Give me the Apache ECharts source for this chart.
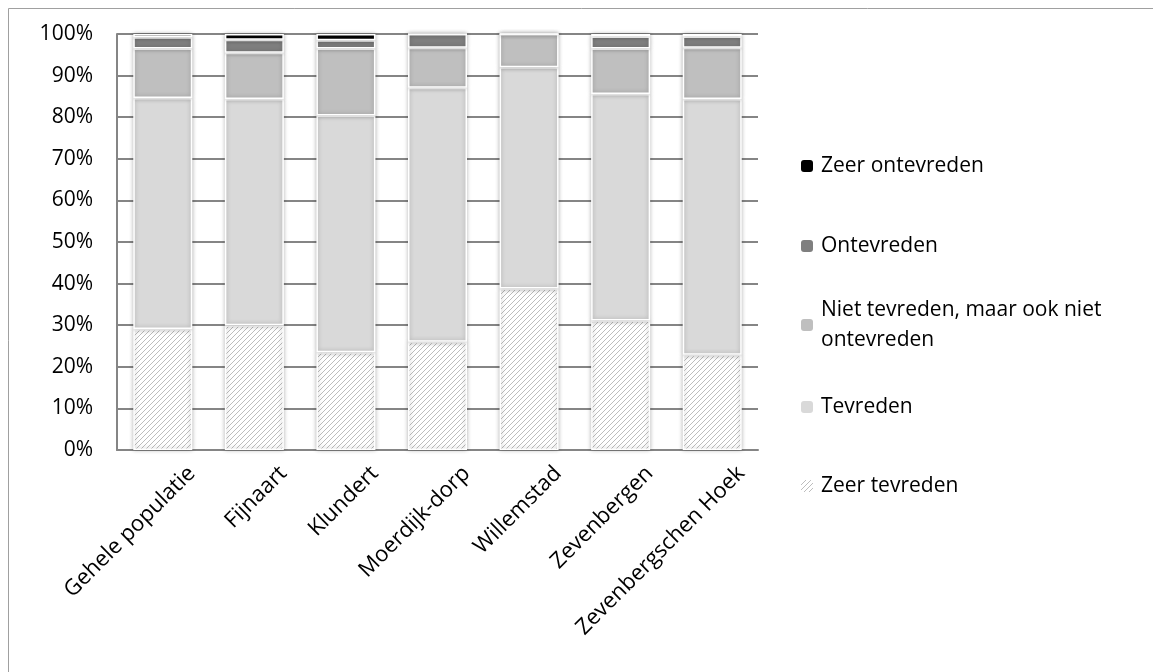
<!DOCTYPE html>
<html>
<head>
<meta charset="utf-8">
<script src="https://cdn.jsdelivr.net/npm/echarts@6/dist/echarts.min.js"></script>
<style>
html,body{margin:0;padding:0;background:#fff;}
#chart{width:1153px;height:672px;}
</style>
</head>
<body>
<div id="chart"></div>
<script>
const categories = ['Gehele populatie','Fijnaart','Klundert','Moerdijk-dorp','Willemstad','Zevenbergen','Zevenbergschen Hoek'];
const zeerTevreden   = [29.1, 30.0, 23.5, 26.0, 38.8, 31.1, 22.9];
const tevreden       = [55.5, 54.4, 56.9, 61.1, 53.2, 54.5, 61.5];
const nietNiet       = [11.9, 11.1, 16.1,  9.6,  8.0, 10.9, 12.3];
const ontevreden     = [ 2.7,  3.1,  2.0,  3.3,  0.0,  2.9,  2.7];
const zeerOntevreden = [ 0.8,  1.4,  1.5,  0.0,  0.0,  0.6,  0.6];
const yTicks = [0,10,20,30,40,50,60,70,80,90,100];

const FONT = 'Open Sans';

function hatch() {
  const c = document.createElement('canvas');
  c.width = 5; c.height = 5;
  const g = c.getContext('2d');
  g.fillStyle = '#ffffff';
  g.fillRect(0,0,5,5);
  g.strokeStyle = '#bdbdbd';
  g.lineWidth = 1;
  g.beginPath();
  g.moveTo(0,5); g.lineTo(5,0);
  g.moveTo(-1,1); g.lineTo(1,-1);
  g.moveTo(4,6); g.lineTo(6,4);
  g.stroke();
  return c;
}
const hatchPattern = {image: hatch(), repeat: 'repeat'};

const names = ['Zeer tevreden','Tevreden','Niet tevreden, maar ook niet ontevreden','Ontevreden','Zeer ontevreden'];
const colors = [hatchPattern, '#d9d9d9', '#bfbfbf', '#7f7f7f', '#000000'];
const dataSets = [zeerTevreden, tevreden, nietNiet, ontevreden, zeerOntevreden];

const series = names.map((n,i)=>({
  name: n,
  type: 'bar',
  stack: 'total',
  barWidth: 59,
  data: dataSets[i],
  itemStyle: {
    color: colors[i],
    borderColor: '#ffffff',
    borderWidth: 1.5,
    shadowBlur: 4,
    shadowColor: 'rgba(0,0,0,0.28)'
  },
  emphasis: {disabled: true}
}));

// legend positions: [name, top]
const legendDefs = [
  ['Zeer ontevreden', 151],
  ['Ontevreden', 231],
  ['Niet tevreden, maar ook niet ontevreden', 280],
  ['Tevreden', 392],
  ['Zeer tevreden', 471]
];
const legends = legendDefs.map(([n, t]) => ({
  data: [n],
  left: 801,
  top: t,
  padding: 0,
  itemWidth: 12,
  itemHeight: 12,
  itemGap: 0,
  selectedMode: false,
  formatter: n === 'Niet tevreden, maar ook niet ontevreden' ? 'Niet tevreden, maar ook niet\nontevreden' : '{name}',
  textStyle: {
    fontFamily: FONT, fontSize: 21, color: '#000', lineHeight: 30,
    padding: n === 'Niet tevreden, maar ook niet ontevreden' ? [30,0,0,3] : [0,0,0,3]
  },
  itemStyle: {borderWidth: 0, shadowBlur: 0}
}));

const option = {
  animation: false,
  backgroundColor: '#ffffff',
  legend: legends,
  grid: [
    {left: 117, right: 395, top: 34, bottom: 222},
    {left: 146, right: 366, top: 34, bottom: 222}
  ],
  xAxis: [
    {
      type: 'category', data: categories, gridIndex: 0,
      axisLine: {show: true, lineStyle: {color: '#858585', width: 2}},
      axisTick: {show: false},
      axisLabel: {show: false}
    },
    {
      type: 'category', data: categories, gridIndex: 1,
      axisLine: {show: false}, axisTick: {show: false},
      axisLabel: {show: true, rotate: 45, margin: 20, interval: 0, fontFamily: FONT, fontSize: 22, color: '#000'}
    }
  ],
  yAxis: [
    {
      type: 'value', min: 0, max: 100, interval: 10, gridIndex: 0,
      axisLine: {show: true, lineStyle: {color: '#858585', width: 2}},
      axisTick: {show: false},
      splitLine: {show: true, lineStyle: {color: '#858585', width: 2}},
      axisLabel: {margin: 24, fontFamily: FONT, fontSize: 21, color: '#000',
        formatter: v => yTicks.indexOf(v) >= 0 ? v + '%' : ''}
    },
    {
      type: 'value', min: 0, max: 100, gridIndex: 1, show: false
    }
  ],
  series: series,
  graphic: [
    {type: 'polyline', shape: {points: [[8.5, 700], [8.5, 8.5], [1160, 8.5]]},
     style: {stroke: '#a0a0a0', lineWidth: 1, fill: null}, silent: true}
  ]
};

const chart = echarts.init(document.getElementById('chart'), null, {renderer: 'canvas'});
chart.setOption(option);
</script>
</body>
</html>
